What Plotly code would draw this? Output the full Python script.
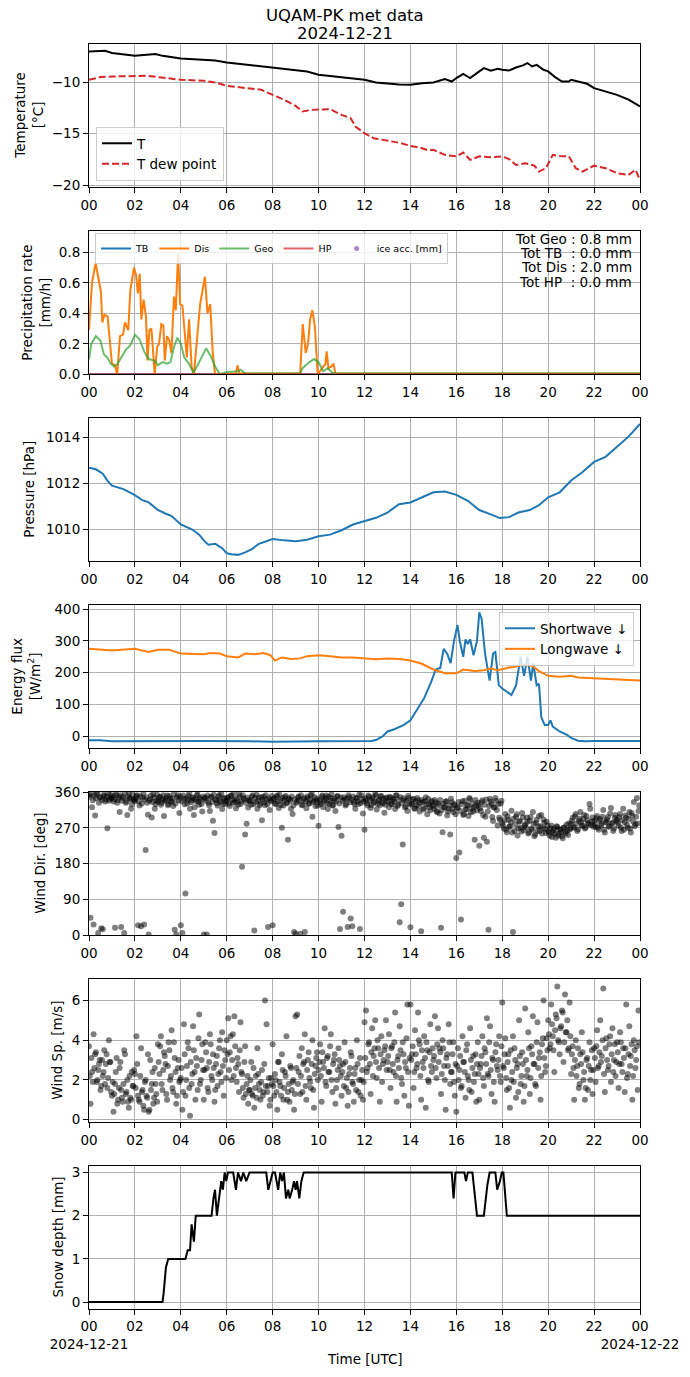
import pandas as pd
import plotly.graph_objects as go
from plotly.subplots import make_subplots

day = pd.Timestamp("2024-12-21")

# --- temperature [degC]
t_hours = [0, 0.7, 1, 2, 2.9, 3.2, 4, 5, 5.5, 6, 7, 8, 9, 9.5, 10, 11, 12, 12.5, 13, 13.5,
           14, 14.5, 15, 15.5, 15.8, 16, 16.3, 16.6, 17, 17.2, 17.5, 17.8, 18, 18.3, 18.6,
           18.9, 19.1, 19.3, 19.5, 19.8, 20, 20.3, 20.6, 20.9, 21.0, 21.3, 21.7, 22, 22.5,
           23, 23.5, 23.8, 24]
t_vals = [-7.02, -6.96, -7.18, -7.44, -7.28, -7.45, -7.7, -7.83, -7.9, -8.09, -8.32, -8.58,
          -8.8, -8.96, -9.29, -9.55, -9.77, -10.03, -10.16, -10.23, -10.26, -10.1, -10.03,
          -9.7, -9.94, -9.6, -9.2, -9.6, -8.96, -8.64, -8.9, -8.7, -8.8, -8.87, -8.58, -8.38,
          -8.15, -8.48, -8.32, -8.8, -8.96, -9.51, -9.94, -9.94, -9.77, -9.94, -10.16, -10.58,
          -10.9, -11.23, -11.7, -12.1, -12.36]
td_hours = [0, 0.5, 1, 2, 2.5, 3, 3.5, 4, 5, 5.5, 6, 7, 7.5, 8, 8.5, 9, 9.3, 9.7, 10, 10.5,
            10.8, 11, 11.4, 11.6, 12, 12.4, 12.8, 13.2, 13.6, 14, 14.4, 14.8, 15, 15.5, 16,
            16.3, 16.6, 17, 17.5, 18, 18.3, 18.6, 19, 19.4, 19.6, 19.9, 20.2, 20.6, 20.9,
            21.2, 21.5, 22, 22.5, 23, 23.5, 23.8, 24]
td_vals = [-9.77, -9.51, -9.45, -9.45, -9.39, -9.51, -9.61, -9.77, -9.87, -10.03, -10.36,
           -10.58, -10.74, -11.23, -11.72, -12.3, -12.85, -12.69, -12.69, -12.62, -12.95,
           -13.17, -13.5, -14.3, -14.95, -15.44, -15.6, -15.76, -15.92, -16.18, -16.34,
           -16.63, -16.57, -17.05, -17.2, -16.83, -17.54, -17.2, -17.28, -17.2, -17.47,
           -18.03, -17.86, -18.1, -18.67, -18.35, -17.05, -17.2, -17.2, -18.35, -18.67,
           -18.1, -18.35, -18.83, -19.0, -18.5, -19.48]

# --- precipitation rate [mm/h]
dis_hours = [0, 0.13, 0.29, 0.42, 0.52, 0.58, 0.67, 0.81, 0.9, 1.0, 1.13, 1.23, 1.35, 1.48,
             1.57, 1.71, 1.8, 1.96, 2.05, 2.13, 2.21, 2.28, 2.38, 2.48, 2.55, 2.63, 2.72,
             2.86, 2.97, 3.05, 3.15, 3.24, 3.3, 3.4, 3.5, 3.59, 3.7, 3.78, 3.88, 3.97, 4.07,
             4.17, 4.26, 4.36, 4.47, 4.57, 4.7, 4.84, 5.05, 5.16, 5.28, 5.39, 5.49, 6.4,
             6.47, 6.55, 9.2, 9.31, 9.44, 9.54, 9.63, 9.73, 9.84, 9.96, 10.3, 10.35, 10.43,
             10.55, 10.65, 10.73, 24]
dis_vals = [0.29, 0.6, 0.73, 0.62, 0.54, 0.34, 0.39, 0.38, 0.25, 0.07, 0.06, 0.0, 0.25,
            0.26, 0.34, 0.29, 0.55, 0.7, 0.65, 0.53, 0.66, 0.36, 0.49, 0.38, 0.09, 0.29,
            0.3, 0.0, 0.18, 0.2, 0.33, 0.32, 0.09, 0.25, 0.22, 0.14, 0.51, 0.42, 0.79, 0.46,
            0.45, 0.29, 0.11, 0.36, 0.05, 0.0, 0.25, 0.46, 0.64, 0.4, 0.46, 0.14, 0.0,
            0.006, 0.06, 0.006, 0.006, 0.33, 0.14, 0.2, 0.36, 0.42, 0.31, 0.0, 0.07, 0.15,
            0.04, 0.05, 0.07, 0.006, 0.006]
geo_hours = [0, 0.1, 0.3, 0.5, 0.65, 0.8, 0.95, 1.1, 1.25, 1.4, 1.6, 1.8, 2.0, 2.2, 2.4,
             2.6, 2.85, 3.0, 3.2, 3.4, 3.55, 3.7, 3.85, 4.0, 4.15, 4.35, 4.55, 4.8, 5.1,
             5.3, 5.5, 5.7, 6.0, 6.5, 6.6, 6.8, 9.2, 9.3, 9.6, 9.8, 10.0, 10.2, 10.4, 10.6,
             10.8, 24]
geo_vals = [0.1, 0.2, 0.25, 0.22, 0.13, 0.11, 0.07, 0.05, 0.07, 0.11, 0.16, 0.19, 0.26,
            0.23, 0.15, 0.1, 0.09, 0.06, 0.08, 0.07, 0.08, 0.18, 0.24, 0.2, 0.11, 0.07,
            0.01, 0.08, 0.17, 0.12, 0.05, 0.0, 0.015, 0.02, 0.03, 0.006, 0.006, 0.04, 0.08,
            0.1, 0.08, 0.02, 0.04, 0.01, 0.006, 0.006]
flat_hours = [0, 24]
tb_vals = [0.0, 0.0]
hp_vals = [0.0, 0.0]
totals = [("Geo", 0.8), ("TB", 0.0), ("Dis", 2.0), ("HP", 0.0)]

# --- pressure [hPa]
p_hours = [0, 0.3, 0.6, 0.8, 1.0, 1.5, 2.0, 2.3, 2.6, 3.0, 3.3, 3.6, 4.0, 4.5, 4.8, 5.0,
           5.2, 5.5, 5.8, 6.0, 6.2, 6.5, 6.8, 7.1, 7.4, 7.7, 8.0, 8.5, 9.0, 9.5, 10.0, 10.5,
           11.0, 11.5, 12.0, 12.5, 13.0, 13.5, 14.0, 14.5, 15.0, 15.5, 16.0, 16.5, 17.0,
           17.5, 17.9, 18.3, 18.7, 19.2, 19.6, 20.0, 20.5, 21.0, 21.5, 22.0, 22.5, 23.0,
           23.5, 24.0]
p_vals = [1012.69, 1012.62, 1012.43, 1012.13, 1011.91, 1011.76, 1011.5, 1011.29, 1011.18,
          1010.85, 1010.71, 1010.59, 1010.22, 1010.0, 1009.78, 1009.53, 1009.34, 1009.38,
          1009.19, 1008.97, 1008.93, 1008.9, 1009.01, 1009.15, 1009.38, 1009.49, 1009.59,
          1009.53, 1009.49, 1009.56, 1009.71, 1009.78, 1009.97, 1010.22, 1010.37, 1010.51,
          1010.74, 1011.1, 1011.18, 1011.4, 1011.62, 1011.65, 1011.51, 1011.25, 1010.85,
          1010.66, 1010.5, 1010.54, 1010.74, 1010.85, 1011.06, 1011.4, 1011.62, 1012.13,
          1012.5, 1012.94, 1013.16, 1013.6, 1014.04, 1014.59]

# --- radiation [W/m2]
sw_hours = [0, 0.5, 1, 3, 5, 7, 8, 10, 12, 12.3, 12.5, 12.8, 13.0, 13.3, 13.7, 14.0, 14.3,
            14.6, 14.9, 15.1, 15.3, 15.45, 15.6, 15.75, 15.9, 16.05, 16.15, 16.3, 16.4,
            16.5, 16.6, 16.75, 16.9, 17.0, 17.1, 17.25, 17.45, 17.6, 17.7, 17.85, 18.0,
            18.2, 18.4, 18.6, 18.8, 18.95, 19.1, 19.25, 19.35, 19.5, 19.6, 19.7, 19.85,
            20.0, 20.1, 20.2, 20.5, 20.8, 21.0, 21.3, 21.6, 22, 23, 24]
sw_vals = [-13, -13, -16, -15, -15, -16, -17, -16, -16, -15, -12, 0, 15, 22, 35, 50, 85,
           120, 170, 210, 215, 275, 260, 230, 300, 350, 300, 250, 305, 290, 305, 255, 300,
           390, 370, 260, 175, 260, 265, 160, 150, 140, 130, 160, 250, 190, 250, 175, 230,
           160, 165, 60, 35, 35, 50, 30, 15, 5, -5, -14, -16, -15, -16, -15]
lw_hours = [0, 0.5, 1.0, 2.0, 2.3, 2.6, 3.0, 3.5, 4.0, 4.5, 5.0, 5.3, 5.7, 6.0, 6.5, 6.8,
            7.2, 7.6, 7.9, 8.1, 8.4, 8.8, 9.2, 9.5, 10.0, 10.5, 11.0, 11.5, 12.0, 12.5,
            13.0, 13.5, 14.0, 14.5, 15.0, 15.5, 16.0, 16.3, 16.8, 17.2, 17.5, 17.8, 18.2,
            18.5, 18.9, 19.3, 19.6, 20.0, 20.5, 21.0, 21.3, 22.0, 23.0, 24.0]
lw_vals = [275, 272, 270, 275, 270, 265, 272, 272, 260, 260, 258, 262, 260, 252, 248, 260,
           258, 262, 255, 238, 248, 243, 245, 252, 255, 252, 248, 248, 245, 242, 245, 243,
           238, 228, 210, 198, 198, 210, 205, 208, 213, 208, 215, 218, 225, 222, 205, 190,
           187, 190, 185, 182, 178, 175]

# --- wind: two interleaved sample sets, each every 4 min (15 per hour), offset by 2 min
wind_dir_a = [
    352, 44, 322, 27, 301, 355, 6, 346, 18, 15, 350, 341, 269, 338, 353,
    345, 336, 19, 352, 340, 310, 21, 348, 6, 333, 302, 355, 344, 329, 341,
    337, 350, 25, 326, 23, 346, 27, 214, 333, 2, 342, 296, 354, 318, 338,
    335, 347, 328, 342, 300, 339, 351, 330, 344, 336, 325, 14, 2, 352, 307,
    25, 6, 343, 105, 331, 350, 318, 339, 345, 322, 337, 354, 328, 341, 311,
    2, 346, 2, 333, 312, 349, 288, 257, 340, 326, 352, 335, 317, 344, 330,
    338, 347, 325, 351, 333, 342, 319, 336, 355, 330, 172, 344, 253, 280, 321,
    340, 328, 352, 12, 335, 318, 346, 331, 289, 349, 327, 341, 21, 315, 337,
    25, 344, 330, 351, 320, 339, 270, 326, 347, 333, 240, 342, 318, 305, 8,
    4, 336, 349, 4, 327, 341, 8, 319, 345, 331, 352, 298, 338, 324, 343,
    275, 334, 348, 322, 340, 351, 317, 330, 345, 326, 338, 312, 349, 272, 16,
    250, 59, 341, 329, 21, 347, 42, 23, 335, 318, 344, 330, 16, 352, 306,
    265, 339, 326, 348, 320, 343, 333, 355, 316, 338, 327, 350, 331, 308, 344,
    337, 322, 346, 330, 341, 317, 352, 328, 33, 78, 228, 339, 324, 312, 345,
    20, 331, 343, 318, 326, 339, 311, 10, 335, 320, 347, 304, 329, 314, 338,
    325, 340, 312, 331, 306, 19, 259, 322, 336, 301, 318, 253, 334, 310, 327,
    194, 321, 208, 40, 337, 305, 316, 328, 300, 342, 319, 311, 240, 326, 333,
    225, 312, 339, 245, 298, 235, 14, 343, 330, 287, 321, 338, 276, 295, 331,
    282, 268, 305, 259, 290, 274, 313, 8, 262, 298, 251, 285, 270, 307, 264,
    279, 296, 256, 288, 268, 310, 249, 283, 262, 300, 274, 256, 291, 267, 285,
    262, 250, 276, 258, 268, 245, 272, 255, 265, 249, 270, 260, 278, 252, 266,
    280, 295, 270, 305, 262, 288, 310, 275, 292, 268, 300, 282, 330, 277, 296,
    287, 272, 300, 265, 292, 280, 315, 258, 285, 297, 274, 320, 283, 268, 302,
    290, 275, 305, 262, 318, 284, 296, 270, 310, 258, 300, 335, 279, 345, 312,
]
wind_dir_b = [
    348, 355, 339, 351, 344, 358, 333, 347, 340, 353, 336, 349, 357, 342, 346,
    350, 341, 356, 333, 347, 352, 338, 345, 359, 336, 349, 343, 318, 354, 339,
    344, 352, 337, 349, 331, 356, 341, 347, 303, 338, 351, 335, 346, 329, 353,
    340, 348, 333, 352, 338, 345, 327, 350, 336, 343, 355, 331, 346, 339, 349,
    337, 351, 329, 344, 340, 356, 334, 347, 302, 341, 352, 336, 345, 330, 349,
    343, 338, 351, 327, 346, 335, 353, 341, 332, 348, 339, 355, 330, 344, 337,
    345, 331, 350, 339, 356, 334, 343, 328, 349, 337, 352, 341, 333, 346, 338,
    336, 349, 330, 345, 353, 338, 327, 347, 341, 334, 352, 329, 344, 339, 350,
    342, 331, 348, 336, 353, 327, 345, 339, 350, 332, 344, 338, 349, 326, 341,
    333, 346, 339, 352, 328, 344, 336, 349, 331, 341, 355, 334, 347, 338, 326,
    340, 329, 351, 337, 345, 332, 348, 338, 354, 327, 343, 336, 350, 331, 346,
    338, 347, 326, 343, 352, 334, 340, 349, 329, 345, 337, 353, 332, 342, 336,
    344, 332, 351, 339, 327, 347, 336, 352, 330, 341, 349, 335, 343, 328, 346,
    335, 348, 329, 343, 336, 351, 325, 340, 347, 332, 344, 321, 338, 350, 331,
    328, 341, 319, 336, 345, 324, 333, 340, 316, 337, 329, 343, 321, 335, 327,
    318, 334, 309, 327, 340, 315, 330, 322, 337, 311, 326, 343, 317, 329, 304,
    320, 335, 312, 329, 302, 338, 317, 326, 345, 309, 331, 322, 340, 314, 327,
    319, 334, 302, 328, 341, 311, 325, 336, 297, 322, 345, 315, 330, 290, 338,
    276, 289, 265, 299, 272, 284, 258, 293, 279, 304, 268, 287, 261, 296, 275,
    271, 285, 259, 297, 266, 280, 253, 290, 274, 262, 302, 269, 283, 257, 276,
    258, 269, 247, 263, 255, 274, 250, 266, 259, 244, 271, 256, 263, 281, 268,
    287, 272, 299, 281, 266, 293, 284, 276, 302, 271, 289, 279, 318, 286, 273,
    279, 294, 270, 288, 276, 298, 265, 284, 291, 273, 306, 281, 262, 295, 287,
    283, 297, 271, 289, 265, 301, 278, 292, 268, 307, 286, 274, 298, 281, 326,
]
wind_sp_a = [
    3.7, 0.8, 2.4, 4.3, 3.3, 1.9, 2.5, 3.0, 1.7, 2.2, 3.5, 2.8, 1.6, 4.0, 2.9,
    1.2, 0.4, 1.8, 3.1, 1.0, 2.6, 1.5, 0.9, 3.5, 1.3, 2.0, 0.6, 1.1, 2.4, 1.7,
    2.3, 4.2, 1.2, 0.9, 3.6, 1.5, 0.5, 2.0, 1.1, 0.4, 3.0, 1.8, 0.8, 2.6, 1.3,
    3.8, 2.3, 4.2, 1.5, 3.4, 2.8, 1.0, 3.9, 2.0, 4.5, 1.4, 3.1, 0.8, 2.6, 1.9,
    2.1, 0.5, 4.8, 1.2, 2.7, 3.6, 0.2, 1.8, 4.7, 2.4, 3.1, 1.5, 5.3, 2.0, 3.8,
    1.0, 3.9, 2.6, 1.4, 4.3, 2.2, 3.3, 0.9, 2.8, 1.7, 3.6, 2.4, 4.4, 1.2, 3.0,
    4.0, 5.1, 3.4, 2.0, 4.3, 5.2, 2.6, 3.1, 1.4, 4.9, 2.3, 1.1, 3.7, 1.8, 0.8,
    1.5, 2.9, 1.2, 0.6, 2.2, 3.6, 1.8, 1.0, 2.5, 1.4, 6.0, 4.8, 1.7, 0.7, 2.1,
    3.8, 1.2, 2.0, 0.5, 2.9, 1.7, 3.3, 1.0, 2.4, 4.2, 1.4, 0.9, 2.6, 1.9, 0.5,
    5.2, 5.3, 2.4, 1.3, 3.6, 2.8, 4.3, 1.0, 3.0, 2.1, 1.6, 4.0, 0.6, 2.7, 3.4,
    2.5, 3.8, 0.9, 2.9, 4.6, 1.7, 3.2, 2.4, 4.3, 1.4, 3.0, 0.8, 2.0, 3.6, 2.7,
    1.2, 2.8, 3.9, 1.6, 0.7, 2.3, 3.4, 1.9, 0.9, 2.6, 4.0, 1.4, 3.1, 2.0, 1.0,
    4.9, 5.5, 2.6, 3.9, 1.3, 4.6, 3.2, 5.0, 2.1, 3.6, 0.9, 4.2, 2.8, 3.5, 5.0,
    2.9, 4.3, 1.6, 3.7, 2.4, 5.4, 0.9, 3.2, 4.7, 2.1, 3.9, 1.2, 2.6, 5.8, 0.7,
    5.8, 3.3, 1.6, 4.5, 2.6, 5.4, 3.8, 1.0, 2.9, 4.2, 0.6, 3.5, 1.9, 4.8, 2.4,
    3.0, 5.2, 2.1, 4.6, 3.6, 1.3, 4.0, 2.7, 0.5, 3.3, 4.8, 1.8, 2.4, 3.9, 1.2,
    0.4, 3.6, 2.5, 1.6, 4.2, 2.9, 1.1, 3.8, 2.0, 4.6, 1.4, 3.2, 2.3, 0.9, 3.9,
    1.0, 2.8, 4.2, 1.7, 3.4, 5.1, 2.2, 4.7, 1.3, 3.0, 0.9, 3.8, 2.5, 4.2, 1.9,
    5.9, 2.6, 4.1, 1.5, 3.3, 0.6, 2.0, 4.2, 3.6, 1.1, 2.8, 5.0, 1.8, 3.4, 0.9,
    5.6, 2.2, 4.4, 1.3, 3.7, 5.2, 2.8, 1.7, 4.9, 3.1, 1.0, 3.8, 6.0, 2.4, 4.1,
    5.0, 3.6, 5.8, 4.2, 2.4, 5.3, 6.7, 3.9, 4.6, 5.5, 2.9, 6.3, 4.4, 3.5, 5.9,
    2.3, 3.7, 1.0, 4.0, 2.7, 1.6, 3.3, 4.4, 2.0, 1.0, 3.0, 1.5, 3.9, 2.5, 1.3,
    3.6, 1.9, 4.5, 2.7, 5.0, 3.2, 6.6, 1.4, 4.1, 2.5, 3.8, 1.9, 4.6, 3.0, 2.2,
    3.9, 1.6, 4.4, 2.8, 3.6, 1.4, 5.8, 2.3, 4.7, 3.2, 1.0, 4.0, 2.6, 3.7, 5.5,
]
wind_sp_b = [
    2.2, 3.1, 1.9, 2.6, 3.4, 2.0, 2.8, 1.5, 3.0, 2.4, 1.8, 3.3, 2.1, 2.9, 1.4,
    1.9, 1.3, 2.4, 0.8, 1.6, 2.9, 1.1, 1.8, 3.3, 1.4, 0.9, 2.2, 1.0, 1.7, 2.5,
    1.6, 2.8, 1.0, 2.2, 1.4, 0.7, 1.9, 1.2, 3.3, 0.5, 1.5, 2.4, 1.1, 1.8, 0.9,
    2.9, 3.7, 1.8, 2.5, 3.2, 1.3, 2.7, 3.5, 2.2, 1.6, 3.9, 2.4, 1.2, 3.0, 2.0,
    2.6, 1.4, 3.3, 2.0, 3.9, 1.6, 2.9, 2.3, 3.5, 1.0, 2.7, 4.1, 1.8, 3.0, 2.5,
    2.5, 3.4, 1.6, 2.9, 3.8, 2.0, 2.6, 1.5, 3.2, 2.3, 4.0, 1.9, 2.7, 3.5, 2.1,
    3.3, 2.5, 4.2, 3.0, 2.2, 3.7, 1.9, 2.8, 3.5, 2.4, 1.6, 2.9, 1.3, 2.2, 1.5,
    2.0, 1.3, 2.6, 1.6, 1.1, 2.3, 1.5, 1.9, 1.2, 2.8, 1.7, 1.4, 2.1, 1.0, 1.8,
    1.7, 2.3, 1.4, 2.9, 1.9, 1.2, 2.5, 1.6, 2.2, 1.0, 1.8, 2.7, 1.5, 2.0, 1.3,
    2.6, 1.8, 3.2, 2.2, 1.4, 2.9, 1.7, 2.5, 3.4, 1.9, 2.8, 1.5, 2.3, 3.1, 2.0,
    2.9, 2.2, 3.4, 2.6, 1.9, 3.1, 2.4, 3.7, 2.0, 2.8, 3.3, 1.6, 2.5, 3.0, 2.2,
    2.4, 1.7, 2.9, 2.1, 1.4, 2.6, 3.2, 1.8, 2.3, 1.5, 2.8, 2.0, 1.2, 2.5, 1.9,
    3.1, 2.4, 3.8, 2.8, 3.4, 2.2, 3.6, 2.9, 4.0, 2.6, 3.3, 1.9, 3.0, 3.7, 2.5,
    3.2, 2.5, 3.6, 2.8, 3.9, 2.2, 3.0, 2.6, 3.5, 1.8, 3.3, 2.9, 4.1, 2.4, 3.1,
    3.0, 3.7, 2.4, 3.3, 2.8, 4.0, 2.2, 3.5, 2.6, 3.1, 3.9, 2.0, 3.4, 2.7, 3.6,
    3.2, 2.6, 3.8, 2.9, 3.4, 2.3, 3.6, 2.0, 3.1, 2.7, 3.9, 2.4, 3.3, 1.9, 2.8,
    2.7, 2.0, 3.2, 1.7, 2.9, 2.4, 3.5, 2.2, 1.5, 3.0, 2.6, 1.9, 3.3, 2.8, 2.3,
    2.6, 3.2, 2.1, 3.6, 2.8, 2.3, 3.9, 2.5, 3.1, 1.9, 3.4, 2.7, 3.0, 2.2, 3.7,
    2.7, 3.3, 2.1, 2.9, 1.6, 3.5, 2.4, 1.9, 3.0, 2.6, 1.4, 3.2, 2.2, 2.8, 1.7,
    3.0, 2.5, 3.6, 2.1, 3.3, 2.8, 1.8, 3.9, 2.6, 3.4, 2.2, 4.1, 3.1, 2.7, 3.5,
    4.3, 3.8, 4.8, 3.5, 4.5, 5.1, 4.0, 3.3, 4.7, 5.4, 3.9, 4.4, 5.0, 3.6, 4.2,
    3.3, 2.6, 3.0, 2.2, 3.6, 1.8, 2.8, 3.4, 2.4, 1.6, 3.1, 2.7, 2.0, 3.5, 2.5,
    3.1, 3.7, 2.6, 3.4, 2.9, 4.0, 2.3, 3.6, 3.0, 2.7, 4.2, 3.3, 2.4, 3.8, 2.9,
    3.4, 2.8, 3.9, 2.4, 3.1, 3.6, 2.1, 3.3, 2.7, 3.8, 2.2, 3.5, 3.0, 1.5, 3.9,
]

# --- snow depth [mm]
sn_hours = [0, 3.2, 3.25, 3.35, 3.45, 4.2, 4.3, 4.4, 4.47, 4.57, 4.65, 5.34, 5.42, 5.49,
            5.57, 5.7, 5.76, 5.83, 5.91, 5.98, 6.05, 6.28, 6.4, 6.49, 6.62, 6.72, 6.85,
            6.99, 7.72, 7.81, 8.0, 8.1, 8.24, 8.33, 8.41, 8.49, 8.58, 8.68, 8.74, 8.85,
            8.93, 9.0, 9.06, 9.16, 9.25, 9.35, 15.8, 15.88, 15.96, 16.35, 16.42, 16.5,
            16.7, 16.9, 17.2, 17.35, 17.45, 17.7, 17.78, 17.9, 17.98, 18.05, 18.2, 24]
sn_vals = [0, 0, 0.2, 0.8, 1.0, 1.0, 1.2, 1.2, 1.8, 1.4, 2.0, 2.0, 2.4, 2.6, 2.0, 2.6, 2.8,
           2.6, 3.0, 2.8, 3.0, 3.0, 2.6, 3.0, 2.8, 3.0, 2.8, 3.0, 3.0, 2.6, 3.0, 3.0, 2.6,
           3.0, 2.8, 3.0, 2.4, 2.6, 2.4, 2.6, 2.8, 2.6, 2.8, 2.4, 2.8, 3.0, 3.0, 2.4, 3.0,
           3.0, 2.8, 3.0, 3.0, 2.0, 2.0, 2.7, 3.0, 3.0, 2.6, 2.8, 3.0, 3.0, 2.0, 2.0]

tick_hours = list(range(0, 25, 2))
tick_text = ["%02d" % (h % 24) for h in tick_hours]


def at(hours):
    return day + pd.to_timedelta(hours, unit="h")


wind_time = pd.DatetimeIndex(list(pd.date_range(day, periods=len(wind_sp_a), freq="4min")) +
                             list(pd.date_range(day + pd.Timedelta("2min"),
                                                periods=len(wind_sp_b), freq="4min")))
wind_dir = wind_dir_a + wind_dir_b
wind_sp = wind_sp_a + wind_sp_b

# page geometry: the browser puts the figure 8 px in from the top-left corner
OFF = 8
W, H = 690 - 2 * OFF, 1377 - 2 * OFF
L, T = 89 - OFF, 44 - OFF
R = W - (640 - OFF)
B = H - (1309 - OFF)
plot_w, plot_h = W - L - R, H - T - B
pitch, panel_h = 187, 143.3


def py(sy):
    return (H - B - (sy - OFF)) / plot_h


def px(sx):
    return (sx - OFF - L) / plot_w


fig = make_subplots(rows=7, cols=1)

fig.add_trace(go.Scatter(x=at(t_hours), y=t_vals, mode="lines", name="T",
                         line=dict(color="black", width=2)), row=1, col=1)
fig.add_trace(go.Scatter(x=at(td_hours), y=td_vals, mode="lines", name="T dew point",
                         line=dict(color="#d62728", width=2, dash="7px,3px")), row=1, col=1)

fig.add_trace(go.Scatter(x=at(flat_hours), y=tb_vals, mode="lines", name="TB", legend="legend2",
                         line=dict(color="#1f77b4", width=2)), row=2, col=1)
fig.add_trace(go.Scatter(x=at(dis_hours), y=dis_vals, mode="lines", name="Dis", legend="legend2",
                         line=dict(color="#ff7f0e", width=2)), row=2, col=1)
fig.add_trace(go.Scatter(x=at(geo_hours), y=geo_vals, mode="lines", name="Geo", legend="legend2",
                         line=dict(color="rgba(44,160,44,0.7)", width=2)), row=2, col=1)
fig.add_trace(go.Scatter(x=at(flat_hours), y=hp_vals, mode="lines", name="HP", legend="legend2",
                         line=dict(color="rgba(214,39,40,0.7)", width=2)), row=2, col=1)
fig.add_trace(go.Scatter(x=[None], y=[None], mode="markers", name="ice acc. [mm]",
                         legend="legend2",
                         marker=dict(color="rgba(148,103,189,0.8)", size=5)), row=2, col=1)

fig.add_trace(go.Scatter(x=at(p_hours), y=p_vals, mode="lines", showlegend=False,
                         line=dict(color="#1f77b4", width=2)), row=3, col=1)

fig.add_trace(go.Scatter(x=at(sw_hours), y=sw_vals, mode="lines", name="Shortwave \u2193",
                         legend="legend3", line=dict(color="#1f77b4", width=2)), row=4, col=1)
fig.add_trace(go.Scatter(x=at(lw_hours), y=lw_vals, mode="lines", name="Longwave \u2193",
                         legend="legend3", line=dict(color="#ff7f0e", width=2)), row=4, col=1)

fig.add_trace(go.Scatter(x=wind_time, y=wind_dir, mode="markers", showlegend=False,
                         marker=dict(color="rgba(0,0,0,0.5)", size=6)), row=5, col=1)
fig.add_trace(go.Scatter(x=wind_time, y=wind_sp, mode="markers", showlegend=False,
                         marker=dict(color="rgba(0,0,0,0.5)", size=6)), row=6, col=1)

fig.add_trace(go.Scatter(x=at(sn_hours), y=sn_vals, mode="lines", showlegend=False,
                         line=dict(color="black", width=2)), row=7, col=1)

font = "DejaVu Sans"
fsize = 13.5
axis_style = dict(showline=True, linecolor="black", linewidth=1, mirror=True,
                  ticks="outside", ticklen=5, tickwidth=1, tickcolor="black",
                  showgrid=True, gridcolor="#b0b0b0", gridwidth=1, zeroline=False,
                  automargin=False,
                  tickfont=dict(family=font, size=fsize, color="black"))

y_specs = [
    dict(range=[-20.2, -6.3], tickvals=[-20, -15, -10]),
    dict(range=[0, 0.94], tickvals=[0, 0.2, 0.4, 0.6, 0.8], tickformat=".1f"),
    dict(range=[1008.62, 1014.85], tickvals=[1010, 1012, 1014]),
    dict(range=[-38, 413], tickvals=[0, 100, 200, 300, 400]),
    dict(range=[0, 360], tickvals=[0, 90, 180, 270, 360]),
    dict(range=[-0.13, 7.08], tickvals=[0, 2, 4, 6]),
    dict(range=[-0.16, 3.15], tickvals=[0, 1, 2, 3]),
]
y_titles = [
    ("Temperature<br>[\u00b0C]", 29),
    ("Precipitation rate<br>[mm/h]", 36),
    ("Pressure [hPa]", 29),
    ("Energy flux<br>[W/m<sup>2</sup>]", 26),
    ("Wind Dir. [deg]", 40),
    ("Wind Sp. [m/s]", 57),
    ("Snow depth [mm]", 57),
]


def label(text, x, y, **kw):
    d = dict(text=text, xref="paper", yref="paper", x=x, y=y, showarrow=False,
             xanchor="center", yanchor="middle",
             font=dict(family=font, size=fsize, color="black"))
    d.update(kw)
    return d


annotations = []
for i in range(7):
    top = 44 + pitch * i
    dom = [max(py(top + panel_h), 0), min(py(top), 1)]
    sfx = "" if i == 0 else str(i + 1)
    texts = list(tick_text)
    if i == 6:
        texts[0] = "00<br>2024-12-21"
        texts[-1] = "00<br>2024-12-22"
    fig.update_layout({
        "xaxis" + sfx: dict(axis_style, type="date", range=[at(0), at(24)], tickangle=0,
                            tickvals=at(tick_hours), ticktext=texts),
        "yaxis" + sfx: dict(axis_style, domain=dom, **y_specs[i]),
    })
    title, cx = y_titles[i]
    annotations.append(label(title, px(cx), (dom[0] + dom[1]) / 2, textangle=-90))

nb = "\u00a0"
for k, (name, val) in enumerate(totals):
    pad = nb if len(name) == 2 else ""
    annotations.append(label("Tot %s%s%s: %.1f mm" % (name, pad, nb, val),
                             px(634), py(239 + 14.2 * k), xanchor="right"))

annotations.append(label("Time [UTC]", 0.5, py(1359)))
annotations.append(label("UQAM-PK met data", px(345), py(16),
                         font=dict(family=font, size=16.5, color="black")))
annotations.append(label("2024-12-21", px(345), py(33),
                         font=dict(family=font, size=16.5, color="black")))

legend_box = dict(bgcolor="rgba(255,255,255,0.8)", bordercolor="#cccccc", borderwidth=1)
fig.update_layout(
    width=W, height=H,
    margin=dict(l=L, r=R, t=T, b=B),
    paper_bgcolor="white", plot_bgcolor="white",
    font=dict(family=font, size=fsize, color="black"),
    legend=dict(legend_box, x=px(96), xanchor="left", y=py(181), yanchor="bottom",
                font=dict(family=font, size=fsize), itemwidth=30, tracegroupgap=0),
    legend2=dict(legend_box, orientation="h", x=px(95), xanchor="left", y=py(233),
                 yanchor="top", font=dict(family=font, size=9.5), itemwidth=30),
    legend3=dict(legend_box, x=px(634), xanchor="right", y=py(612), yanchor="top",
                 font=dict(family=font, size=fsize), itemwidth=30),
    annotations=annotations,
    showlegend=True,
)

fig.write_html("out.html")
